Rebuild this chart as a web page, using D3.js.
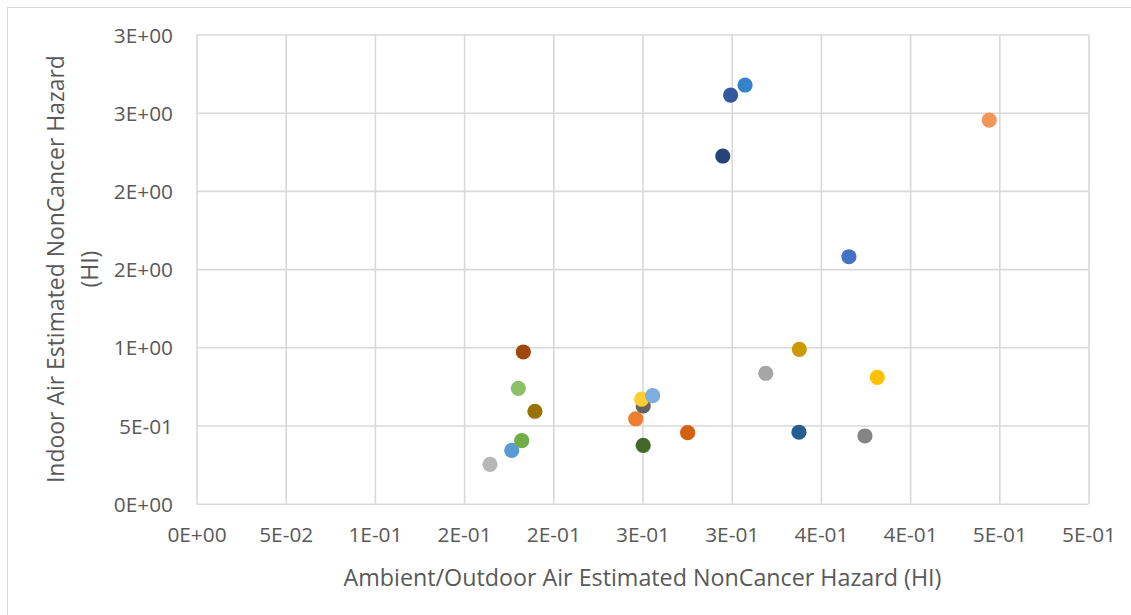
<!DOCTYPE html>
<html>
<head>
<meta charset="utf-8">
<script src="https://cdn.jsdelivr.net/npm/d3@7"></script>
<style>
  html, body { margin: 0; padding: 0; background: #ffffff; }
  svg { display: block; font-family: "Open Sans", "Noto Sans", sans-serif; }
</style>
</head>
<body>
<svg id="chart" width="1131" height="615"></svg>
<script>
// One point per series: ambient/outdoor HI (x) against indoor HI (y)
const seriesOutdoor = [0.3657, 0.2462, 0.3191, 0.3816, 0.1767, 0.1823, 0.2950, 0.1832, 0.2504, 0.1897, 0.3377,
                       0.2504, 0.4444, 0.1645, 0.2495, 0.2557, 0.1804, 0.2994, 0.2753, 0.3747, 0.3379, 0.3075];
const seriesIndoor  = [1.579, 0.543, 0.834, 0.808, 0.341, 0.403, 2.223, 0.970, 0.625, 0.591, 0.457,
                       0.373, 2.453, 0.252, 0.668, 0.691, 0.738, 2.613, 0.454, 0.433, 0.987, 2.677];
const seriesColors  = ["#4472C4", "#ED7D31", "#A5A5A5", "#FFC000", "#5B9BD5", "#70AD47", "#264478", "#9E480E",
                       "#636363", "#997300", "#255E91", "#43682B", "#F1975A", "#B7B7B7", "#FFCD33", "#7CAFDD",
                       "#8CC168", "#335AA1", "#D26012", "#848484", "#CC9A00", "#3483CB"];

const xTickValues = [0, 0.05, 0.1, 0.15, 0.2, 0.25, 0.3, 0.35, 0.4, 0.45, 0.5];
const xTickLabels = ["0E+00", "5E-02", "1E-01", "2E-01", "2E-01", "3E-01", "3E-01", "4E-01", "4E-01", "5E-01", "5E-01"];
const yTickValues = [0, 0.5, 1, 1.5, 2, 2.5, 3];
const yTickLabels = ["0E+00", "5E-01", "1E+00", "2E+00", "2E+00", "3E+00", "3E+00"];

const xTitle = "Ambient/Outdoor Air Estimated NonCancer Hazard (HI)";
const yTitleLines = ["Indoor Air Estimated NonCancer Hazard", "(HI)"];

const svg = d3.select("#chart");
const area = { left: 196.5, right: 1088.5, top: 34.5, bottom: 503.7 };
const gridColor = "#D9D9D9";
const textColor = "#595959";

// chart-area frame
svg.append("rect")
  .attr("x", 7.5).attr("y", 7.5)
  .attr("width", 1300).attr("height", 800)
  .attr("fill", "#ffffff")
  .attr("stroke", gridColor).attr("stroke-width", 1);

const x = d3.scaleLinear().domain([0, 0.5]).range([area.left, area.right]);
const y = d3.scaleLinear().domain([0, 3]).range([area.bottom, area.top]);

// fit a text element's font size to a target width
function fitWidth(sel, target) {
  const node = sel.node();
  const fs = parseFloat(sel.attr("font-size"));
  const w = node.getComputedTextLength();
  sel.attr("font-size", (fs * target / w).toFixed(2));
}

// x axis with vertical gridlines
const xAxis = svg.append("g")
  .attr("transform", `translate(0,${area.bottom})`)
  .call(d3.axisBottom(x)
    .tickValues(xTickValues)
    .tickFormat((d, i) => xTickLabels[i])
    .tickSize(-(area.bottom - area.top)));
xAxis.select(".domain").remove();
xAxis.selectAll(".tick line").attr("stroke", gridColor).attr("stroke-width", 1.6);
xAxis.selectAll(".tick text")
  .attr("fill", textColor).attr("font-size", 20)
  .attr("y", 542 - area.bottom).attr("dy", 0);
xAxis.attr("font-family", null).attr("font-size", null);

// y axis with horizontal gridlines
const yAxis = svg.append("g")
  .attr("transform", `translate(${area.left},0)`)
  .call(d3.axisLeft(y)
    .tickValues(yTickValues)
    .tickFormat((d, i) => yTickLabels[i])
    .tickSize(-(area.right - area.left)));
yAxis.select(".domain").remove();
yAxis.selectAll(".tick line").attr("stroke", gridColor).attr("stroke-width", 1.6);
yAxis.selectAll(".tick text")
  .attr("fill", textColor).attr("font-size", 20)
  .attr("x", 173 - area.left).attr("dy", "0.36em");
yAxis.attr("font-family", null).attr("font-size", null);

// size tick labels so "5E-02" spans ~54px
{
  const probe = xAxis.selectAll(".tick text").filter((d, i) => i === 1);
  const w = probe.node().getComputedTextLength();
  const fs = 20 * 54 / w;
  xAxis.selectAll(".tick text").attr("font-size", fs.toFixed(2));
  yAxis.selectAll(".tick text").attr("font-size", fs.toFixed(2));
}

// points
svg.append("g")
  .selectAll("circle")
  .data(seriesOutdoor.map((v, i) => ({ x: v, y: seriesIndoor[i], c: seriesColors[i] })))
  .join("circle")
  .attr("cx", d => x(d.x))
  .attr("cy", d => y(d.y))
  .attr("r", 7.6)
  .attr("fill", d => d.c);

// axis titles
const xt = svg.append("text")
  .attr("x", (area.left + area.right) / 2)
  .attr("y", 586)
  .attr("text-anchor", "middle")
  .attr("fill", textColor)
  .attr("font-size", 22)
  .text(xTitle);
fitWidth(xt, 598);

const yMid = (area.top + area.bottom) / 2;
const yt1 = svg.append("text")
  .attr("transform", `translate(64,${yMid}) rotate(-90)`)
  .attr("text-anchor", "middle")
  .attr("fill", textColor)
  .attr("font-size", 22)
  .text(yTitleLines[0]);
fitWidth(yt1, 428);
svg.append("text")
  .attr("transform", `translate(98,${yMid}) rotate(-90)`)
  .attr("text-anchor", "middle")
  .attr("fill", textColor)
  .attr("font-size", yt1.attr("font-size"))
  .text(yTitleLines[1]);
</script>
</body>
</html>
